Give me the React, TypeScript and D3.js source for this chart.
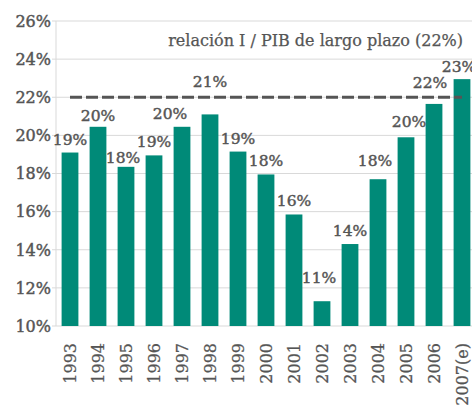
import React from 'react';
import * as d3 from 'd3';

const years = ['1993', '1994', '1995', '1996', '1997', '1998', '1999', '2000', '2001', '2002', '2003', '2004', '2005', '2006', '2007(e)'];
const ratio = [19.1, 20.45, 18.35, 18.95, 20.45, 21.1, 19.15, 17.95, 15.85, 11.3, 14.3, 17.7, 19.9, 21.65, 22.95];
const yTicks = [10, 12, 14, 16, 18, 20, 22, 24, 26];
const longTerm = 22;
const title = 'relación I / PIB de largo plazo (22%)';

// manual label nudges, the source has them hand placed
const labelNudge: Record<string, [number, number]> = {
    '1994': [0, -6],
    '1995': [-3, -4],
    '1997': [-12, -8],
    '1998': [0, -27],
    '2002': [-3, -18],
    '2004': [-3, -13],
    '2005': [3, -10],
    '2006': [-4, -16],
    '2007(e)': [-3, -7],
};

const W = 472;
const H = 409;
const margin = { top: 21, right: -4, bottom: 83, left: 56 };
const font = '"DejaVu Serif", serif';
const textColor = '#555555';
const barColor = '#008a78';

const App = () => {
    const x = d3
        .scaleBand()
        .domain(years)
        .range([margin.left, W - margin.right])
        .paddingInner(0.4)
        .paddingOuter(0.2);

    const y = d3
        .scaleLinear()
        .domain([10, 26])
        .range([H - margin.bottom, margin.top]);

    const first = years[0];
    const last = years[years.length - 1];
    const heavy = { stroke: textColor, strokeWidth: 0.45 };

    return (
        <svg width={W} height={H} style={{ position: 'absolute', left: 0, top: 0, background: '#fff' }}>
            <g className="grid">
                {yTicks.map((t) => (
                    <line key={t} x1={margin.left - 4} x2={W} y1={y(t)} y2={y(t)} stroke="#d9d9d9" strokeWidth={1} />
                ))}
                <line x1={margin.left} x2={margin.left} y1={y(26)} y2={y(10)} stroke="#d9d9d9" strokeWidth={1} />
            </g>
            <g className="y-axis" fontFamily={font} fontSize={16} fill={textColor} textAnchor="end" {...heavy}>
                {yTicks.map((t) => (
                    <text key={t} x={margin.left - 5} y={y(t)} dy="0.36em">{t}%</text>
                ))}
            </g>
            <g className="plot-area" fill={barColor}>
                {years.map((yr, i) => (
                    <rect key={yr} x={x(yr)} y={y(ratio[i])} width={x.bandwidth()} height={y(10) - y(ratio[i])} />
                ))}
            </g>
            <line
                x1={(x(first) ?? 0) + x.bandwidth() / 2}
                x2={(x(last) ?? 0) + x.bandwidth() / 2}
                y1={y(longTerm)}
                y2={y(longTerm)}
                stroke={textColor}
                strokeWidth={3}
                strokeDasharray="12,4"
            />
            <g className="labels" fontFamily={font} fontSize={15.5} fill={textColor} textAnchor="middle" {...heavy}>
                {years.map((yr, i) => {
                    const [dx, dy] = labelNudge[yr] ?? [0, -8];
                    return (
                        <text key={yr} x={(x(yr) ?? 0) + x.bandwidth() / 2 + dx} y={y(ratio[i]) + dy}>
                            {Math.round(ratio[i])}%
                        </text>
                    );
                })}
            </g>
            <g className="x-axis" fontFamily={font} fontSize={16} fill={textColor} textAnchor="end" stroke={textColor} strokeWidth={0.25}>
                {years.map((yr) => {
                    const cx = (x(yr) ?? 0) + x.bandwidth() / 2;
                    const cy = y(10) + 17;
                    return (
                        <text key={yr} transform={`translate(${cx},${cy}) rotate(-90)`} dy="0.36em">{yr}</text>
                    );
                })}
            </g>
            <text x={463} y={46} fontFamily={font} fontSize={16} fill={textColor} textAnchor="end" stroke={textColor} strokeWidth={0.25}>{title}</text>
        </svg>
    );
};

export default App;
